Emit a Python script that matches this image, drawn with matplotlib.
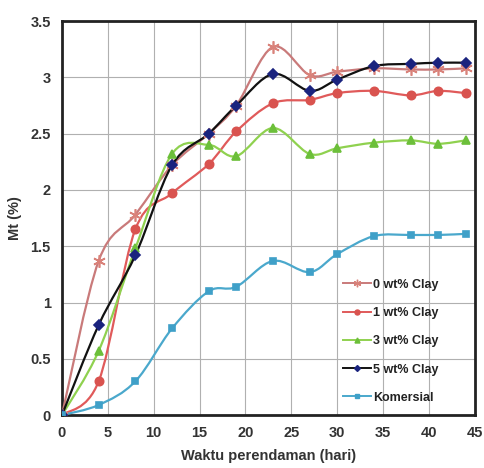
import numpy as np
import matplotlib.pyplot as plt
from matplotlib.path import Path
from matplotlib.patches import PathPatch
from matplotlib.lines import Line2D

plt.rcParams["font.family"] = ["Liberation Sans", "DejaVu Sans"]

days = [0, 4, 8, 12, 16, 19, 23, 27, 30, 34, 38, 41, 44]
clay0 = [0, 1.37, 1.78, 2.22, 2.50, 2.75, 3.27, 3.02, 3.05, 3.08, 3.07, 3.07, 3.08]
clay1 = [0, 0.30, 1.65, 1.97, 2.23, 2.52, 2.77, 2.80, 2.86, 2.88, 2.84, 2.88, 2.86]
clay3 = [0, 0.57, 1.48, 2.32, 2.40, 2.30, 2.55, 2.32, 2.37, 2.42, 2.44, 2.41, 2.44]
clay5 = [0, 0.80, 1.42, 2.22, 2.50, 2.75, 3.03, 2.88, 2.98, 3.10, 3.12, 3.13, 3.13]
komersial = [0, 0.09, 0.30, 0.77, 1.10, 1.14, 1.37, 1.27, 1.43, 1.59, 1.60, 1.60, 1.61]

labels = ["0 wt% Clay", "1 wt% Clay", "3 wt% Clay", "5 wt% Clay", "Komersial"]


def smooth_path(x, y, t=1 / 6):
    # excel-like smoothed line: bezier segments through the data points
    x = np.asarray(x, float)
    y = np.asarray(y, float)
    verts = [(x[0], y[0])]
    codes = [Path.MOVETO]
    n = len(x)
    for i in range(n - 1):
        x0, y0 = (x[i - 1], y[i - 1]) if i > 0 else (x[i], y[i])
        x3, y3 = (x[i + 2], y[i + 2]) if i + 2 < n else (x[i + 1], y[i + 1])
        c1 = (x[i] + (x[i + 1] - x0) * t, y[i] + (y[i + 1] - y0) * t)
        c2 = (x[i + 1] - (x3 - x[i]) * t, y[i + 1] - (y3 - y[i]) * t)
        verts += [c1, c2, (x[i + 1], y[i + 1])]
        codes += [Path.CURVE4] * 3
    return Path(verts, codes)


fig = plt.figure(figsize=(4.84, 4.68), dpi=100)
ax = fig.add_axes([0.128, 0.113, 0.853, 0.842])

styles = [
    (clay0, "#c97a7a", "#d9827a", (6, 2, 0), 9),
    (clay1, "#e05a5a", "#d9534f", "o", 6),
    (clay3, "#8fd14f", "#6cbf3a", "^", 6),
    (clay5, "#111111", "#1a237e", "D", 5),
    (komersial, "#4aa8cc", "#3fa0c8", "s", 5),
]

handles = []
for (vals, lc, mc, mk, ms), lab in zip(styles, labels):
    ax.add_patch(PathPatch(smooth_path(days, vals), facecolor="none",
                           edgecolor=lc, linewidth=1.6, zorder=3))
    ax.plot(days, vals, linestyle="none", marker=mk, markersize=ms,
            color=mc, markeredgecolor=mc, markeredgewidth=1.2, zorder=4)
    handles.append(Line2D([], [], color=lc, linewidth=1.4, marker=mk,
                          markersize=ms * 0.6, markerfacecolor=mc,
                          markeredgecolor=mc))

ax.set_xlim(0, 45)
ax.set_ylim(0, 3.5)
ax.set_xticks(np.arange(0, 46, 5))
ax.set_yticks(np.arange(0, 3.51, 0.5))
ax.set_yticklabels(["0", "0.5", "1", "1.5", "2", "2.5", "3", "3.5"])
ax.grid(True, color="#b0b0b0", linewidth=0.8)
ax.set_axisbelow(True)
ax.tick_params(length=0, pad=8, labelsize=10.5)
for lab in ax.get_xticklabels() + ax.get_yticklabels():
    lab.set_fontweight("bold")
    lab.set_color("#333333")
for spine in ax.spines.values():
    spine.set_linewidth(2)
    spine.set_color("#222222")

ax.set_xlabel("Waktu perendaman (hari)", fontsize=10.5, fontweight="bold",
              color="#333333", labelpad=6)
ax.set_ylabel("Mt (%)", fontsize=10.5, fontweight="bold", color="#333333",
              labelpad=6)

leg = ax.legend(handles, labels, loc="lower right", frameon=False,
                fontsize=9, handlelength=2.2, handletextpad=0.2,
                labelspacing=1.3, bbox_to_anchor=(0.94, 0.0))
for t in leg.get_texts():
    t.set_fontweight("bold")
    t.set_color("#222222")

fig.savefig("out.png", dpi=100, facecolor="white")
